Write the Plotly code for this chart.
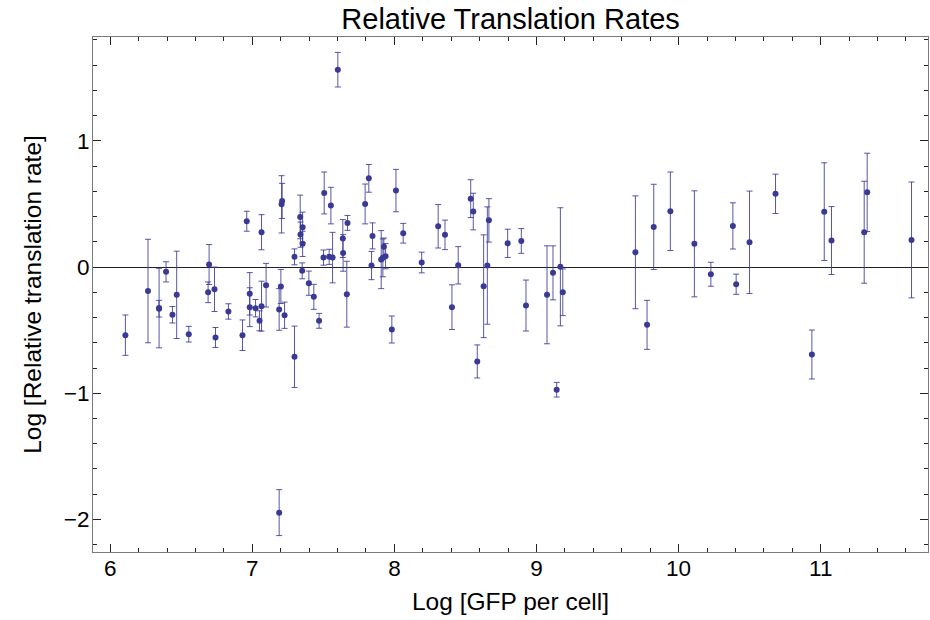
import plotly.graph_objects as go

# Log GFP per cell, log relative translation rate and its error for each construct
gfp = [6.107, 6.266, 6.344, 6.344, 6.393, 6.438, 6.468, 6.553, 6.689, 6.696,
       6.734, 6.741, 6.832, 6.931, 6.961, 6.982, 6.982, 7.023, 7.051, 7.065,
       7.065, 7.097, 7.189, 7.189, 7.201, 7.206, 7.210, 7.227, 7.297, 7.297,
       7.337, 7.339, 7.351, 7.354, 7.354, 7.398, 7.433, 7.470, 7.501, 7.506,
       7.541, 7.553, 7.565, 7.602, 7.637, 7.639, 7.665, 7.670, 7.794, 7.820,
       7.839, 7.846, 7.907, 7.919, 7.926, 7.938, 7.982, 8.011, 8.062, 8.192,
       8.308, 8.356, 8.405, 8.449, 8.537, 8.555, 8.583, 8.628, 8.654, 8.665,
       8.797, 8.893, 8.926, 9.074, 9.116, 9.142, 9.168, 9.185, 9.696, 9.778,
       9.825, 9.942, 10.111, 10.227, 10.382, 10.405, 10.499, 10.682, 10.938, 11.025,
       11.076, 11.306, 11.327, 11.639]

rate = [-0.540, -0.190, -0.325, -0.330, -0.038, -0.378, -0.220, -0.532, -0.200, 0.020,
        -0.176, -0.558, -0.352, -0.540, 0.363, -0.212, -0.318, -0.326, -0.426, -0.310,
        0.276, -0.144, -0.336, -1.946, -0.154, 0.497, 0.524, -0.382, -0.711, 0.081,
        0.397, 0.257, -0.030, 0.315, 0.184, -0.128, -0.236, -0.426, 0.075, 0.587,
        0.081, 0.487, 0.075, 1.564, 0.226, 0.112, -0.215, 0.350, 0.500, 0.703,
        0.012, 0.247, 0.059, 0.073, 0.160, 0.086, -0.495, 0.606, 0.268, 0.036,
        0.323, 0.255, -0.318, 0.014, 0.542, 0.440, -0.748, -0.152, 0.012, 0.370,
        0.188, 0.207, -0.305, -0.220, -0.046, -0.972, 0.002, -0.200, 0.117, -0.458,
        0.318, 0.442, 0.184, -0.057, 0.326, -0.136, 0.196, 0.580, -0.693, 0.439,
        0.210, 0.276, 0.592, 0.215]

err = [0.160, 0.410, 0.315, 0.066, 0.080, 0.065, 0.346, 0.062, 0.082, 0.158,
       0.176, 0.079, 0.061, 0.121, 0.079, 0.168, 0.154, 0.069, 0.079, 0.198,
       0.139, 0.173, 0.165, 0.182, 0.135, 0.227, 0.139, 0.104, 0.243, 0.063,
       0.173, 0.100, 0.063, 0.120, 0.100, 0.096, 0.099, 0.059, 0.060, 0.166,
       0.060, 0.145, 0.200, 0.137, 0.150, 0.145, 0.261, 0.059, 0.158, 0.110,
       0.112, 0.103, 0.230, 0.150, 0.070, 0.100, 0.107, 0.168, 0.078, 0.082,
       0.172, 0.117, 0.177, 0.148, 0.150, 0.145, 0.131, 0.407, 0.465, 0.172,
       0.112, 0.098, 0.202, 0.388, 0.214, 0.058, 0.468, 0.185, 0.447, 0.194,
       0.338, 0.311, 0.420, 0.095, 0.183, 0.080, 0.406, 0.156, 0.194, 0.387,
       0.269, 0.404, 0.310, 0.459]

x_ticks = [6, 7, 8, 9, 10, 11]
y_ticks = [-2, -1, 0, 1]

point_color = "rgb(58,58,150)"
bar_color = "rgba(58,58,150,0.85)"
font_family = "Liberation Sans, Arial, sans-serif"

fig = go.Figure()
fig.add_trace(go.Scatter(
    x=gfp, y=rate, mode="markers",
    marker=dict(color=point_color, size=6),
    error_y=dict(type="data", array=err, visible=True,
                 color=bar_color, thickness=1, width=3),
    showlegend=False,
))

axis_common = dict(
    showgrid=False,
    showline=True, linecolor="#7a7a7a", linewidth=1,
    mirror="ticks",
    ticks="inside", ticklen=8, tickwidth=1, tickcolor="#222",
    tickfont=dict(family=font_family, size=22.5, color="black"),
)

fig.update_layout(
    width=930, height=620,
    margin=dict(l=93, r=2, t=37, b=68),
    paper_bgcolor="white", plot_bgcolor="white",
    font=dict(family=font_family, color="black"),
    title=dict(text="Relative Translation Rates", x=0.549, xanchor="center",
               y=0.969, yanchor="middle",
               font=dict(family=font_family, size=29, color="black")),
    xaxis=dict(
        **axis_common,
        range=[5.879, 11.755],
        tickmode="array", tickvals=x_ticks, ticktext=[str(v) for v in x_ticks],
        minor=dict(dtick=0.2, tick0=6, ticks="inside", ticklen=4,
                   tickcolor="#222", tickwidth=1),
        zeroline=False,
        ticklabelstandoff=-4,
        title=dict(text="Log [GFP per cell]", standoff=12,
                   font=dict(family=font_family, size=24.5, color="black")),
    ),
    yaxis=dict(
        **axis_common,
        range=[-2.258, 1.823],
        tickmode="array", tickvals=y_ticks,
        ticktext=["\u22122", "\u22121", "0", "1"],
        minor=dict(dtick=0.2, tick0=0, ticks="inside", ticklen=4,
                   tickcolor="#222", tickwidth=1),
        zeroline=True, zerolinecolor="#222", zerolinewidth=1,
        ticklabelstandoff=-2,
        title=dict(text="Log [Relative translation rate]", standoff=15,
                   font=dict(family=font_family, size=24.5, color="black")),
    ),
)

fig.write_html("out.html")
